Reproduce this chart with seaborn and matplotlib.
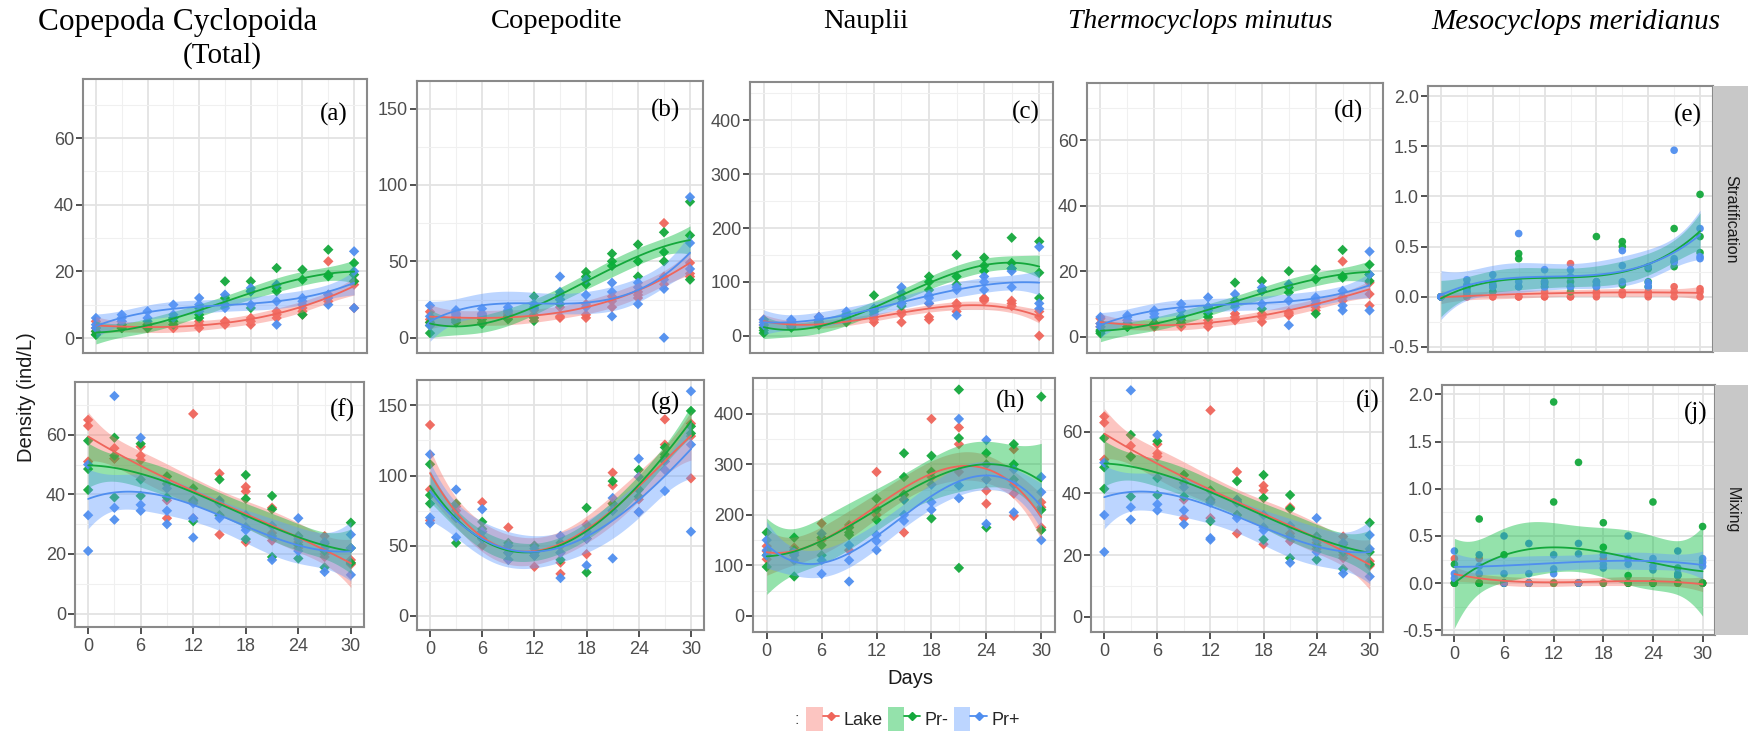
import numpy as np
import pandas as pd
import matplotlib
matplotlib.use("Agg")
import matplotlib.pyplot as plt
import seaborn as sns
from matplotlib.patches import Patch
from matplotlib.lines import Line2D
from matplotlib.legend_handler import HandlerTuple

# ---------------- data ----------------
DAYS = [0, 3, 6, 9, 12, 15, 18, 21, 24, 27, 30]
TREATMENTS = ["Lake", "Pr-", "Pr+"]
COLUMN_TITLES = ["Copepoda Cyclopoida", "Copepodite", "Nauplii",
                 "Thermocyclops minutus", "Mesocyclops meridianus"]
ROW_STRIPS = ["Stratification", "Mixing"]
PANEL_TAGS = ["(a)", "(b)", "(c)", "(d)", "(e)", "(f)", "(g)", "(h)", "(i)", "(j)"]

# replicates per day (3 per day)
A_LAKE = [[5,3,2],[5,4,3],[4,3,3],[4,3,3],[5,4,3],[5,4,5],[5,4,6],[8,7,6],[9,8,7],[23,13,11],[17,16,9]]
A_PRM  = [[1,2,1],[3,3,4],[3.5,4,3],[5,4,6],[6,7,9],[17,10,12],[17,14,9],[21,15,14],[20.5,17.5,7],[26.5,18.5,19],[22.5,19,17]]
A_PRP  = [[4,6,3],[7,5,6],[8,6,5],[10,7,6],[12,10,8],[13,9,10],[15,14,10],[16,11,4],[12,10,11],[13,10,12],[26,20,9]]

B_LAKE = [[17,12,10],[14,12,13],[14,13,15],[14,16,15],[15,13,18],[13,14,20],[15,13,22],[27,24,20],[30,28,26],[75,35,40],[49,42,40]]
B_PRM  = [[3,10,8],[10,12,11],[10,9,12],[13,14,12],[27,13,11],[28,25,22],[43,40,35],[55,50,47],[61,50,40],[69,56,50],[89,67,38]]
B_PRP  = [[21,8,14],[18,15,16],[19,16,15],[20,17,18],[22,20,19],[40,30,25],[38,28,20],[36,14,30],[22,33,36],[0,32,38],[92,62,45]]

C_LAKE = [[30,15,20],[28,20,22],[35,30,25],[30,28,32],[30,25,35],[40,25,45],[35,30,60],[55,45,60],[70,65,68],[65,60,55],[45,35,0]]
C_PRM  = [[5,10,15],[20,15,18],[20,25,22],[25,30,35],[75,50,45],[70,60,55],[110,100,85],[150,110,95],[145,130,120],[182,135,125],[175,117,70]]
C_PRP  = [[25,30,20],[25,20,30],[25,35,30],[45,40,35],[45,40,50],[90,80,60],[75,60,70],[90,38,85],[110,100,85],[125,120,90],[165,60,50]]

D_LAKE = [[5.5,4,3],[4,5,3],[4,3,4],[3,4,4],[4,5,3],[5,7,6],[7,4.5,6],[7.5,6.5,7],[9,8,10],[23,12,11],[16.5,9.5,13]]
D_PRM  = [[1,2,1.5],[3,3,4],[4,3.5,4],[5,4,6],[6,7,9],[16.5,10,11],[17,14,8.5],[20,15,13.5],[20.5,17.5,7],[26.5,18.5,18],[22,17,19]]
D_PRP  = [[3,6,4],[6.5,5,6],[8,7,6],[10,6,8],[12,9,8],[13,10,9],[15,14,10],[16,11,3.5],[12,10,11],[14,9.5,8],[26,19,8]]

E_LAKE = [[0,0,0],[0,0.03,0],[0,0.05,0],[0,0,0],[0,0,0.05],[0.33,0,0],[0,0.05,0.03],[0.02,0.05,0.03],[0,0.02,0.05],[0.1,0.05,0],[0.08,0.05,0]]
E_PRM  = [[0,0,0],[0.05,0.1,0.08],[0.1,0.12,0.05],[0.43,0.38,0.1],[0.13,0.15,0.1],[0.1,0.15,0.05],[0.6,0.1,0.15],[0.55,0.5,0.12],[0.28,0.15,0.1],[0.68,0.35,0.3],[1.02,0.44,0.6]]
E_PRP  = [[0,0,0],[0.17,0.12,0.05],[0.22,0.15,0.1],[0.63,0.15,0.1],[0.27,0.15,0.1],[0.27,0.2,0.1],[0.15,0.12,0.1],[0.46,0.31,0.15],[0.14,0.3,0.1],[1.46,0.38,0.35],[0.68,0.38,0.4]]

F_LAKE = [[65,63,51],[55.5,52,52],[56,53,51.5],[46,32,38],[67,37.5,32],[47,26.5,33],[42.5,41,24],[35.5,24.5,27],[22,24,26],[26,19,20],[18,16.5,17]]
F_PRM  = [[48.5,41.5,58],[59,53,39],[57,39.5,45],[43.5,39,46],[42,31,38],[45,37,33],[46.5,38.5,25],[39.5,19,35],[26,18.5,23],[23.5,15.5,21],[30.5,22,17]]
F_PRP  = [[33,21,50],[73,35.5,31.5],[59,36.5,34.5],[34.5,30,42],[25.5,37,32],[37.5,32,38],[33,29,28],[29.5,18,26],[32,21,25],[14,22,24],[26.5,13,22]]

G_LAKE = [[136,90,68],[75,78,70],[81,60,50],[63,50,45],[35,45,50],[38,30,50],[65,44,55],[102,93,80],[74,83,90],[140,122,110],[137,128,98]]
G_PRM  = [[108,86,80],[80,52,70],[67,62,55],[52,45,40],[50,43,45],[52,45,40],[77,31,55],[96,75,80],[104,85,90],[113,115,120],[146,135,130]]
G_PRP  = [[115,70,66],[90,56,70],[76,55,60],[45,40,50],[43,48,45],[57,27,45],[36,55,60],[84,41,75],[112,99,74],[104,89,110],[160,122,60]]

H_LAKE = [[138,128,112],[135,120,125],[183,155,150],[180,175,130],[285,212,200],[240,230,165],[390,285,275],[373,340,285],[270,248,222],[330,242,198],[225,215,175]]
H_PRM  = [[165,97,120],[155,78,130],[155,140,120],[175,165,160],[232,190,210],[322,275,240],[317,285,193],[448,352,95],[322,300,175],[340,300,270],[434,210,170]]
H_PRP  = [[150,130,120],[120,110,125],[163,110,83],[140,110,68],[160,148,130],[230,188,200],[225,210,260],[390,258,233],[348,270,182],[290,260,205],[275,245,150]]

I_LAKE = [[65,63,51],[55.5,52,52],[56,53,52],[46,32,38],[67,37.5,32],[47,27,33],[42.5,41,23.5],[35.5,24.5,27],[22,24,26],[26,19,20],[18,16.5,17]]
I_PRM  = [[48.5,41.5,58],[59,52,39],[57,39.5,45],[43.5,39,46],[41,31,38],[44,37,33],[46,38.5,25],[39.5,19,35],[26,18.5,23],[23.5,15.5,21],[30.5,21,17]]
I_PRP  = [[33,21,50],[73.5,35.5,31.5],[59,36.5,34.5],[34.5,30,42],[25.5,25,37],[37.5,32,38],[33,29,28],[29.5,17.5,26],[32,21,25],[14,22,24],[26.5,13,22]]

J_LAKE = [[0.26,0,0],[0.26,0,0],[0,0,0],[0,0,0],[0,0,0],[0,0,0],[0.26,0,0],[0,0,0],[0,0,0],[0,0,0],[0,0,0]]
J_PRM  = [[0.2,0,0],[0.68,0,0],[0.3,0,0],[0,0,0],[1.92,0.86,0],[1.28,0,0],[0.64,0.38,0],[0.08,0,0],[0.86,0,0],[0.16,0.08,0],[0.6,0,0]]
J_PRP  = [[0.34,0.1,0.05],[0.3,0.18,0.1],[0.5,0.1,0],[0.42,0.1,0],[0.3,0.1,0.15],[0.42,0.31,0],[0.3,0.2,0.16],[0.5,0.26,0.2],[0.26,0.18,0.14],[0.34,0.08,0.1],[0.26,0.22,0.18]]

PANEL_DATA = [(A_LAKE, A_PRM, A_PRP), (B_LAKE, B_PRM, B_PRP), (C_LAKE, C_PRM, C_PRP),
              (D_LAKE, D_PRM, D_PRP), (E_LAKE, E_PRM, E_PRP),
              (F_LAKE, F_PRM, F_PRP), (G_LAKE, G_PRM, G_PRP), (H_LAKE, H_PRM, H_PRP),
              (I_LAKE, I_PRM, I_PRP), (J_LAKE, J_PRM, J_PRP)]

COL_YTICKS = [[0, 20, 40, 60], [0, 50, 100, 150], [0, 100, 200, 300, 400],
              [0, 20, 40, 60], [-0.5, 0.0, 0.5, 1.0, 1.5, 2.0]]
COL_YMINOR = [[10, 30, 50, 70], [25, 75, 125], [50, 150, 250, 350, 450],
              [10, 30, 50, 70], [-0.25, 0.25, 0.75, 1.25, 1.75]]
COL_YLIMS = [(-4.5, 77.7), (-10, 168), (-32, 471), (-5, 77.5), (-0.55, 2.1)]

# ---------------- style ----------------
POINT_COLORS = {"Lake": "#EF655B", "Pr-": "#14A83C", "Pr+": "#4F8EEF"}
FILL_COLORS = {"Lake": "#F8766D", "Pr-": "#00BA38", "Pr+": "#619CFF"}

sns.set_theme(style="white")
plt.rcParams["font.family"] = ["Liberation Sans", "DejaVu Sans"]

W, H = 1749, 736
fig = plt.figure(figsize=(W / 100, H / 100), dpi=100)

# panel boxes in pixels: left, right, top, bottom
BOXES = [(83, 367, 79, 353), (417, 703, 81, 353), (750, 1053, 82, 353), (1087, 1383, 83, 353), (1428, 1713, 86, 352),
         (75, 364, 382, 627), (417, 704, 380, 630), (753, 1055, 378, 632), (1091, 1383, 378, 632), (1442, 1715, 385, 635)]
TAG_POS = [(0.933, 0.872), (0.92, 0.893), (0.957, 0.889), (0.932, 0.893), (0.961, 0.891),
           (0.969, 0.886), (0.916, 0.908), (0.90, 0.906), (0.99, 0.906), (0.974, 0.888)]


def box_to_rect(b):
    l, r, t, bt = b
    return [l / W, 1 - bt / H, (r - l) / W, (bt - t) / H]


def smooth_fit(x, y, xs, order=3):
    """Polynomial least-squares smoother with a 95% confidence band."""
    x = np.asarray(x, float)
    y = np.asarray(y, float)
    X = np.vander(x, order + 1, increasing=True)
    beta, *_ = np.linalg.lstsq(X, y, rcond=None)
    res = y - X @ beta
    dof = len(x) - (order + 1)
    sigma2 = res @ res / dof
    cov = sigma2 * np.linalg.inv(X.T @ X)
    Xs = np.vander(xs, order + 1, increasing=True)
    fit = Xs @ beta
    se = np.sqrt(np.einsum("ij,jk,ik->i", Xs, cov, Xs))
    tq = 1.96 + 2.4 / dof
    return fit, fit - tq * se, fit + tq * se


xs = np.linspace(0, 30, 121)

for idx, (box, series) in enumerate(zip(BOXES, PANEL_DATA)):
    row, col = divmod(idx, 5)
    ax = fig.add_axes(box_to_rect(box))
    ax.set_facecolor("white")
    rows = []
    for trt, reps in zip(TREATMENTS, series):
        for d, vals in zip(DAYS, reps):
            for v in vals:
                rows.append((d, v, trt))
    df = pd.DataFrame(rows, columns=["Days", "Density", "Treatment"])

    marker = "o" if col == 4 else "D"
    size = 30 if col == 4 else 28
    sns.scatterplot(data=df, x="Days", y="Density", hue="Treatment", palette=POINT_COLORS,
                    marker=marker, s=size, linewidth=0, alpha=0.95, legend=False, ax=ax, zorder=2)

    for trt in TREATMENTS:
        sub = df[df["Treatment"] == trt]
        fit, lo, hi = smooth_fit(sub["Days"].values, sub["Density"].values, xs)
        ax.fill_between(xs, lo, hi, color=FILL_COLORS[trt], alpha=0.42, lw=0, zorder=3)
        sns.lineplot(x=xs, y=fit, color=POINT_COLORS[trt], lw=1.3, ax=ax, zorder=4)

    ax.set_xlim(-1.5, 31.5)
    ax.set_ylim(*COL_YLIMS[col])
    ax.set_xticks([0, 6, 12, 18, 24, 30])
    ax.set_xticks([3, 9, 15, 21, 27], minor=True)
    ax.set_yticks(COL_YTICKS[col])
    ax.set_yticks(COL_YMINOR[col], minor=True)
    if col == 4:
        ax.set_yticklabels([f"{v:.1f}" for v in COL_YTICKS[col]])
    ax.grid(which="major", color="#E3E3E3", lw=1.3)
    ax.grid(which="minor", color="#F0F0F0", lw=0.8)
    ax.set_axisbelow(True)
    ax.set_xlabel("")
    ax.set_ylabel("")
    for s in ax.spines.values():
        s.set_color("#8A8A8A")
        s.set_linewidth(1.5)
    ax.tick_params(which="minor", length=0)
    ax.tick_params(axis="y", which="major", length=5, width=1.2, color="#333333",
                   labelsize=13, labelcolor="#4D4D4D", pad=1.5, left=True)
    if row == 0:
        ax.tick_params(axis="x", which="major", length=0, labelbottom=False)
    else:
        ax.tick_params(axis="x", which="major", length=5, width=1.2, color="#333333",
                       labelsize=13, labelcolor="#4D4D4D", pad=3, bottom=True)
    tx, ty = TAG_POS[idx]
    ax.text(tx, ty, PANEL_TAGS[idx], transform=ax.transAxes, ha="right", va="center",
            family="Liberation Serif", fontsize=18, color="black", zorder=6)

    if col == 4:
        l, r, t, bt = box
        sax = fig.add_axes([r / W, 1 - bt / H, (W - r) / W, (bt - t) / H])
        sax.set_facecolor("#C8C8C8")
        sax.set_xticks([])
        sax.set_yticks([])
        for s in sax.spines.values():
            s.set_visible(False)
        sax.text(0.5, 0.5, ROW_STRIPS[row], rotation=270, ha="center", va="center",
                 transform=sax.transAxes, fontsize=11.5, color="#1A1A1A")

# column titles
TITLE_POS = [(178, 22), (557, 22), (866, 22), (1200, 22), (1576, 22)]
TITLE_SIZE = [22.5, 20.5, 20.5, 20, 21]
for i, (title, (px, py)) in enumerate(zip(COLUMN_TITLES, TITLE_POS)):
    fig.text(px / W, 1 - py / H, title, ha="center", va="center", family="Liberation Serif",
             fontsize=TITLE_SIZE[i], style="italic" if i >= 3 else "normal", color="black")
fig.text(222 / W, 1 - 56 / H, "(Total)", ha="center", va="center", family="Liberation Serif",
         fontsize=21, color="black")

fig.text(27 / W, 1 - 397 / H, "Density (ind/L)", rotation=90, ha="center", va="center",
         fontsize=14.5, color="#1A1A1A")
fig.text(910 / W, 1 - 678 / H, "Days", ha="center", va="center", fontsize=14.5, color="#1A1A1A")

handles = [(Patch(facecolor=FILL_COLORS[t], alpha=0.42, edgecolor="none"),
            Line2D([], [], color=POINT_COLORS[t], lw=1.3, marker="D", markersize=4.5))
           for t in TREATMENTS]
fig.legend(handles=handles, labels=TREATMENTS, handler_map={tuple: HandlerTuple(ndivide=None, pad=0)},
           loc="center", bbox_to_anchor=(913 / W, 1 - 719 / H), ncol=3, frameon=False, fontsize=13,
           handlelength=1.8, handleheight=1.6, columnspacing=0.3, handletextpad=0.25)
fig.text(797 / W, 1 - 719 / H, ":", ha="center", va="center", fontsize=12, color="#4D4D4D")

fig.savefig("out.png", dpi=100)
